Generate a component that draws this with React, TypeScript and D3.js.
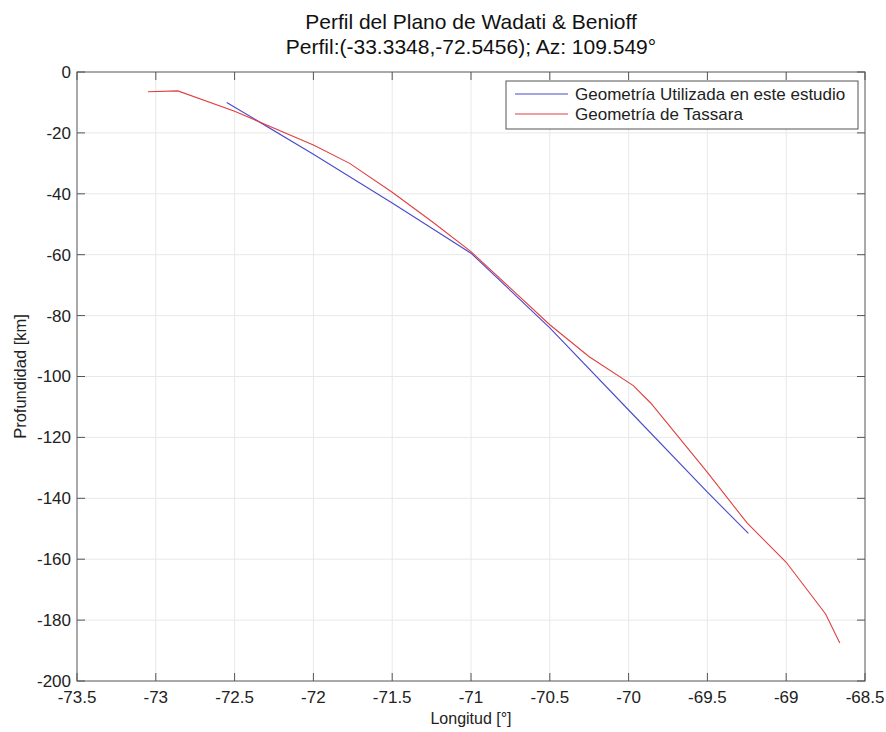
import React from 'react';
import * as d3 from 'd3';

const blueLon = [-72.55, -72.0, -71.5, -71.0, -70.5, -70.0, -69.5, -69.24];
const blueDepth = [-10, -27, -43, -59.5, -84, -111, -138, -151.5];

const redLon = [-73.05, -72.86, -72.5, -72.0, -71.77, -71.5, -71.25, -71.0, -70.75, -70.5, -70.25, -69.97, -69.86, -69.5, -69.25, -69.0, -68.75, -68.66];
const redDepth = [-6.5, -6.2, -12.9, -24, -30, -39.5, -49, -59, -71, -83, -93.5, -103, -108.7, -131.5, -148, -161, -178, -187.5];

const xTicks = [-73.5, -73, -72.5, -72, -71.5, -71, -70.5, -70, -69.5, -69, -68.5];
const yTicks = [0, -20, -40, -60, -80, -100, -120, -140, -160, -180, -200];

const seriesNames = ['Geometría Utilizada en este estudio', 'Geometría de Tassara'];
const seriesColors = ['#4a4acc', '#e04040'];

const W = 886;
const H = 732;
const M = { left: 77, right: 865, top: 72, bottom: 681 };
const FONT = '"Liberation Sans", Arial, Helvetica, sans-serif';

export default function App() {
  const x = d3.scaleLinear().domain([-73.5, -68.5]).range([M.left, M.right]);
  const y = d3.scaleLinear().domain([-200, 0]).range([M.bottom, M.top]);

  const line = d3
    .line<[number, number]>()
    .x((d) => x(d[0]))
    .y((d) => y(d[1]));

  const blue = blueLon.map((v, i) => [v, blueDepth[i]] as [number, number]);
  const red = redLon.map((v, i) => [v, redDepth[i]] as [number, number]);
  const series = [blue, red];

  const tickLen = 8;
  const axisColor = '#555';
  const textColor = '#222';
  const fmt = (v: number) => String(v);

  // legend box
  const lg = { x0: 506, y0: 81, x1: 858, y1: 129 };

  return (
    <svg width={W} height={H} style={{ position: 'absolute', left: 0, top: 0, background: '#fff' }} fontFamily={FONT}>
      <rect x={0} y={0} width={W} height={H} fill="#fff" />
      {/* grid */}
      <g stroke="#e8e8e8" strokeWidth={1}>
        {xTicks.slice(1, -1).map((t) => (
          <line key={'gx' + t} x1={x(t)} x2={x(t)} y1={M.top} y2={M.bottom} />
        ))}
        {yTicks.slice(1, -1).map((t) => (
          <line key={'gy' + t} x1={M.left} x2={M.right} y1={y(t)} y2={y(t)} />
        ))}
      </g>

      {/* data */}
      {series.map((s, i) => (
        <path key={'s' + i} d={line(s) || ''} fill="none" stroke={seriesColors[i]} strokeWidth={1.1} />
      ))}

      {/* ticks */}
      <g stroke={axisColor} strokeWidth={1}>
        {xTicks.map((t) => (
          <g key={'tx' + t}>
            <line x1={x(t)} x2={x(t)} y1={M.bottom} y2={M.bottom - tickLen} />
            <line x1={x(t)} x2={x(t)} y1={M.top} y2={M.top + tickLen} />
          </g>
        ))}
        {yTicks.map((t) => (
          <g key={'ty' + t}>
            <line x1={M.left} x2={M.left + tickLen} y1={y(t)} y2={y(t)} />
            <line x1={M.right} x2={M.right - tickLen} y1={y(t)} y2={y(t)} />
          </g>
        ))}
        <rect x={M.left} y={M.top} width={M.right - M.left} height={M.bottom - M.top} fill="none" />
      </g>

      {/* tick labels */}
      <g fill={textColor} fontSize={17}>
        {xTicks.map((t) => (
          <text key={'lx' + t} x={x(t)} y={M.bottom + 22} textAnchor="middle">
            {fmt(t)}
          </text>
        ))}
        {yTicks.map((t) => (
          <text key={'ly' + t} x={M.left - 6} y={y(t)} dy="0.35em" textAnchor="end">
            {fmt(t)}
          </text>
        ))}
      </g>

      {/* axis labels */}
      <text x={(M.left + M.right) / 2} y={724} textAnchor="middle" fontSize={16} fill={textColor}>
        Longitud [°]
      </text>
      <text
        transform={`translate(26,${(M.top + M.bottom) / 2}) rotate(-90)`}
        textAnchor="middle"
        fontSize={16.5}
        fill={textColor}
      >
        Profundidad [km]
      </text>

      {/* title */}
      <g fill="#111" fontSize={21} textAnchor="middle">
        <text x={(M.left + M.right) / 2} y={29}>Perfil del Plano de Wadati &amp; Benioff</text>
        <text x={(M.left + M.right) / 2} y={54}>Perfil:(-33.3348,-72.5456); Az: 109.549°</text>
      </g>

      {/* legend */}
      <g>
        <rect x={lg.x0} y={lg.y0} width={lg.x1 - lg.x0} height={lg.y1 - lg.y0} fill="#fff" stroke={axisColor} strokeWidth={1} />
        {seriesNames.map((n, i) => (
          <g key={'lg' + i}>
            <line x1={515} x2={568} y1={94 + i * 20} y2={94 + i * 20} stroke={seriesColors[i]} strokeWidth={1.1} />
            <text x={575} y={94 + i * 20} dy="0.35em" fontSize={17} fill={textColor}>
              {n}
            </text>
          </g>
        ))}
      </g>
    </svg>
  );
}
